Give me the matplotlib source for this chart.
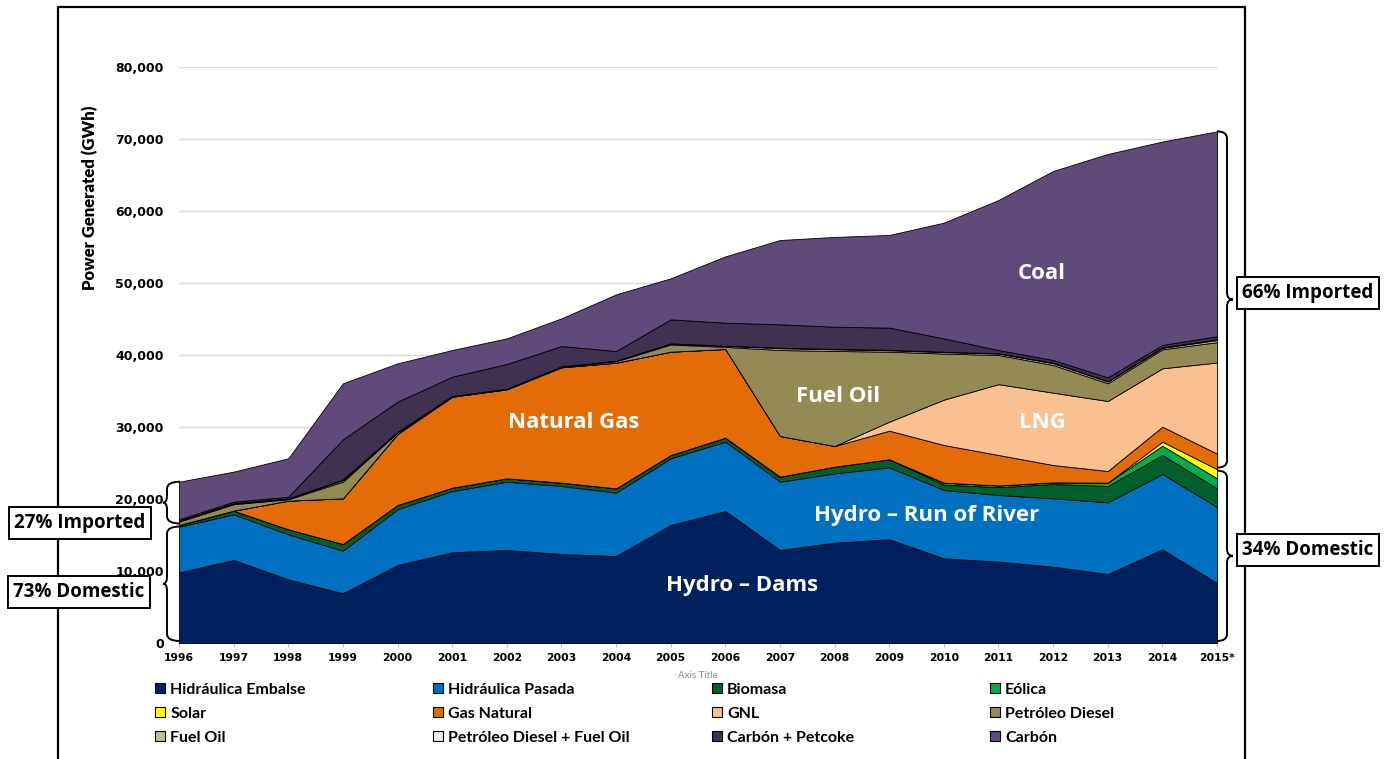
import matplotlib
matplotlib.use('Agg')
import matplotlib.pyplot as plt
from matplotlib.patches import Patch, PathPatch
from matplotlib.path import Path
from matplotlib.lines import Line2D
import matplotlib.transforms as mtransforms
import numpy as np

# ---------------- data (GWh) ----------------
years = list(range(1996, 2016))
year_labels = [str(y) for y in years[:-1]] + ['2015*']

hidraulica_embalse = [9800, 11530, 8840, 6900, 10830, 12600, 12920, 12360, 12080, 16390,
                      18330, 12920, 13930, 14400, 11760, 11300, 10600, 9580, 13010, 8330]
hidraulica_pasada = [6350, 6340, 6250, 5920, 7740, 8500, 9480, 9450, 8800, 9260,
                     9630, 9480, 9630, 10000, 9490, 9260, 9490, 9960, 10460, 10550]
biomasa = [240, 510, 700, 930, 600, 470, 470, 460, 600, 460,
           560, 700, 930, 1110, 750, 1090, 1990, 2270, 2640, 2600]
eolica = [0, 0, 0, 0, 0, 0, 0, 0, 0, 0,
          0, 0, 0, 0, 270, 230, 230, 460, 1290, 1390]
solar = [0, 0, 0, 0, 0, 0, 0, 0, 0, 0,
         0, 0, 0, 0, 0, 0, 0, 0, 560, 1280]
gas_natural = [0, 0, 3980, 6340, 9860, 12640, 12360, 16020, 17450, 14350,
               12310, 5650, 2870, 3980, 5230, 4230, 2410, 1620, 2080, 2150]
gnl = [0, 0, 0, 0, 0, 0, 0, 0, 0, 0,
       0, 0, 0, 1250, 6300, 9840, 10050, 9720, 8110, 12660]
petroleo_diesel = [460, 900, 200, 2310, 200, 60, 60, 100, 200, 1000,
                   300, 11940, 13200, 9720, 6400, 4050, 3840, 2460, 2640, 2820]
fuel_oil = [100, 80, 80, 200, 80, 30, 30, 30, 60, 120,
            150, 250, 230, 200, 200, 200, 250, 240, 200, 300]
diesel_fuel_oil = [50, 40, 40, 130, 40, 10, 10, 10, 20, 40,
                   20, 80, 50, 60, 50, 50, 70, 80, 70, 100]
carbon_petcoke = [180, 230, 230, 5560, 4170, 2680, 3420, 2820, 1340, 3330,
                  3190, 3240, 3090, 3080, 1860, 440, 380, 510, 350, 420]
carbon = [5220, 4170, 5330, 7780, 5320, 3700, 3560, 3840, 7870, 5700,
          9210, 11710, 12470, 12870, 16070, 20840, 26250, 31020, 28240, 28460]

series_names = ['Hidráulica Embalse', 'Hidráulica Pasada', 'Biomasa', 'Eólica',
                'Solar', 'Gas Natural', 'GNL', 'Petróleo Diesel',
                'Fuel Oil', 'Petróleo Diesel + Fuel Oil', 'Carbón + Petcoke', 'Carbón']
series = [hidraulica_embalse, hidraulica_pasada, biomasa, eolica, solar, gas_natural,
          gnl, petroleo_diesel, fuel_oil, diesel_fuel_oil, carbon_petcoke, carbon]
colors = ['#002060', '#0070C0', '#00602B', '#00B050', '#FFFF00', '#E36C09',
          '#FAC090', '#948A54', '#C4BD97', '#EEECE1', '#403151', '#604A7B']
n_domestic = 5  # first five series are domestic sources

# ---------------- figure ----------------
W, H = 1389, 759
fig = plt.figure(figsize=(W / 100, H / 100), dpi=100)
fig.patch.set_facecolor('white')

def fx(px):
    return px / W

def fy(py):
    return 1 - py / H

ax_l, ax_r, ax_t, ax_b = 179, 1217, 67, 643
ax = fig.add_axes([fx(ax_l), fy(ax_b), (ax_r - ax_l) / W, (ax_b - ax_t) / H])

x = np.arange(len(years))
ax.stackplot(x, *series, colors=colors, edgecolor='black', linewidth=0.6, zorder=3)

ax.set_xlim(0, len(years) - 1)
ax.set_ylim(0, 80000)
ax.set_yticks(np.arange(0, 80001, 10000))
ax.set_yticklabels([f'{v:,}' for v in range(0, 80001, 10000)],
                   fontsize=9, fontweight='bold', family='DejaVu Sans')
ax.set_xticks(x)
ax.set_xticklabels(year_labels, fontsize=7.8, fontweight='bold', family='DejaVu Sans')
ax.tick_params(axis='y', length=0, pad=11)
ax.tick_params(axis='x', length=3, color='#BFBFBF', pad=4)
ax.grid(axis='y', color='#D9D9D9', linewidth=1, zorder=0)
ax.set_axisbelow(True)
for s in ['top', 'right', 'left']:
    ax.spines[s].set_visible(False)
ax.spines['bottom'].set_color('#BFBFBF')

# y label
fig.text(fx(90), fy(198), 'Power Generated (GWh)', rotation=90, ha='center', va='center',
         fontsize=12, fontweight='heavy', family='Lato')
# residual axis title
fig.text(fx(698), fy(676), 'Axis Title', ha='center', va='center', fontsize=7,
         color='#8C8C8C', family='Lato')

# in-chart labels
lab_kw = dict(color='white', fontweight='bold', family='Open Sans', ha='center',
              va='center', zorder=5, fontsize=16)
ax.text(7.23, 30560, 'Natural Gas', **lab_kw)
ax.text(12.06, 34300, 'Fuel Oil', **lab_kw)
ax.text(15.8, 30560, 'LNG', **lab_kw)
ax.text(15.8, 51250, 'Coal', **lab_kw)
ax.text(13.69, 17640, 'Hydro – Run of River', **lab_kw)
ax.text(10.3, 7920, 'Hydro – Dams', **lab_kw)

# outer frame
frame = Line2D([fx(58), fx(58), fx(1245), fx(1245)], [0, fy(7), fy(7), 0],
               transform=fig.transFigure, color='black', linewidth=1.6, zorder=1)
fig.add_artist(frame)

# braces
cum = np.cumsum(np.array(series), axis=0)
fig.canvas.draw()

def ypix(v):
    return ax.transData.transform((0, v))[1]

def brace(xbase, y0, y1, direction, h, tip, r=7):
    ym = (y0 + y1) / 2
    xs = xbase + direction * h
    xt = xbase + direction * (h + tip)
    sgn = 1 if y1 > y0 else -1
    verts = [(xbase, y0), (xs, y0), (xs, y0 + sgn * r),
             (xs, ym - sgn * r),
             (xs, ym), (xt, ym),
             (xs, ym), (xs, ym + sgn * r),
             (xs, y1 - sgn * r),
             (xs, y1), (xbase, y1)]
    codes = [Path.MOVETO, Path.CURVE3, Path.CURVE3, Path.LINETO,
             Path.CURVE3, Path.CURVE3, Path.CURVE3, Path.CURVE3,
             Path.LINETO, Path.CURVE3, Path.CURVE3]
    p = PathPatch(Path(verts, codes), facecolor='none', edgecolor='black',
                  linewidth=1.4, transform=mtransforms.IdentityTransform(),
                  zorder=6, clip_on=False)
    fig.add_artist(p)

gap = 1.5
x_left = ax.transAxes.transform((0, 0))[0]
x_right = ax.transAxes.transform((1, 0))[0]
t0 = ypix(cum[-1][0]); d0 = ypix(cum[n_domestic - 1][0]); z0 = ypix(0)
brace(x_left + 1, t0, d0 + gap, -1, 13, 4)
brace(x_left + 1, d0 - gap, z0 + 2, -1, 13, 4)
t1 = ypix(cum[-1][-1]); d1 = ypix(cum[n_domestic - 1][-1]); z1 = ypix(0)
brace(x_right, t1, d1 + gap, 1, 10, 6)
brace(x_right, d1 - gap, z1 + 2, 1, 10, 6)

total0 = cum[-1][0]; dom0 = cum[n_domestic - 1][0]
total1 = cum[-1][-1]; dom1 = cum[n_domestic - 1][-1]
box_kw = dict(ha='center', va='center', fontsize=13.5, fontweight='bold', family='Open Sans',
              zorder=7,
              bbox=dict(boxstyle='square,pad=0.3', facecolor='white', edgecolor='black',
                        linewidth=1.4))
fig.text(fx(80), fy(523), f'{round(100 * (total0 - dom0) / total0)}% Imported', **box_kw)
fig.text(fx(79), fy(592), f'{round(100 * dom0 / total0)}% Domestic', **box_kw)
fig.text(fx(1308), fy(293), f'{round(100 * (total1 - dom1) / total1)}% Imported', **box_kw)
fig.text(fx(1308), fy(550), f'{round(100 * dom1 / total1)}% Domestic', **box_kw)

# legend: four columns, row-major like the reference
handles = [Patch(facecolor=c, edgecolor='black', linewidth=0.8) for c in colors]
col_x = [155, 433, 712, 990]
for ci, cx in enumerate(col_x):
    idx = [ci, ci + 4, ci + 8]
    fig.legend([handles[i] for i in idx], [series_names[i] for i in idx],
               loc='upper left', bbox_to_anchor=(fx(cx), fy(683)), frameon=False,
               prop=dict(family='Lato', weight='bold', size=11.5),
               handlelength=0.6, handleheight=0.6, handletextpad=0.35,
               labelspacing=0.62, borderaxespad=0, borderpad=0)

fig.savefig('out.png', dpi=100, facecolor='white')
